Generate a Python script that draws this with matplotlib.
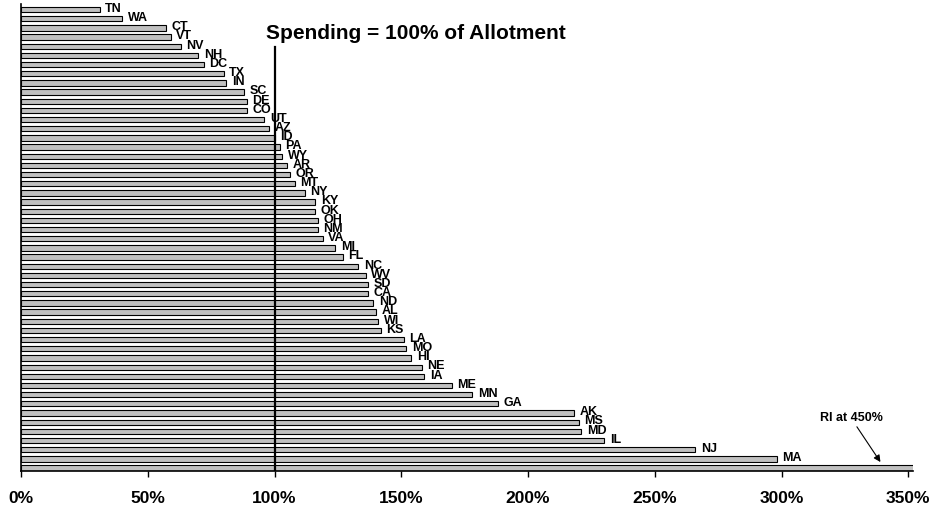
import numpy as np
import matplotlib
matplotlib.use("Agg")
import matplotlib.pyplot as plt
from matplotlib import ticker

plt.rcParams['font.family'] = ['Liberation Sans', 'DejaVu Sans']
plt.rcParams['font.weight'] = 'bold'

# Spending as % of allotment, sorted (RI actually 450%, clipped at right edge)
states = ["TN", "WA", "CT", "VT", "NV", "NH", "DC", "TX", "IN", "SC",
          "DE", "CO", "UT", "AZ", "ID", "PA", "WY", "AR", "OR", "MT",
          "NY", "KY", "OK", "OH", "NM", "VA", "MI", "FL", "NC", "WV",
          "SD", "CA", "ND", "AL", "WI", "KS", "LA", "MO", "HI", "NE",
          "IA", "ME", "MN", "GA", "AK", "MS", "MD", "IL", "NJ", "MA", "RI"]
spending = [31, 40, 57, 59, 63, 70, 72, 80, 81, 88,
            89, 89, 96, 98, 100, 102, 103, 105, 106, 108,
            112, 116, 116, 117, 117, 119, 124, 127, 133, 136,
            137, 137, 139, 140, 141, 142, 151, 152, 154, 158,
            159, 170, 178, 188, 218, 220, 221, 230, 266, 298, 450]
xticks = [0, 50, 100, 150, 200, 250, 300, 350]

fig = plt.figure(figsize=(9.33, 5.12), dpi=100)
ax = fig.add_axes([0.0225, 0.080, 0.9565, 0.912])

y = np.arange(len(states))
ax.barh(y, spending, height=0.58, color='#c0c0c0', edgecolor='black', linewidth=0.8)

# state labels just past the bar ends
for i, (st, v) in enumerate(zip(states, spending)):
    if v > 350:
        continue
    ax.annotate(st, (v, i), xytext=(4, 0.5), textcoords='offset points',
                ha='left', va='center', fontsize=9, fontweight='bold')

ax.set_xlim(0, 352)
ax.set_ylim(50.33, -0.6)
ax.set_xticks(xticks)
ax.xaxis.set_major_formatter(ticker.FuncFormatter(lambda v, p: f"{v:.0f}%"))
ax.tick_params(axis='x', length=4.5, width=1, pad=10, labelsize=12.5)
ax.set_yticks([])
for s in ['top', 'right']:
    ax.spines[s].set_visible(False)
ax.spines['left'].set_linewidth(1.2)
ax.spines['bottom'].set_linewidth(1.2)

# 100% reference line
ax.axvline(100, ymin=0, ymax=0.908, color='black', linewidth=1.6)
ax.text(0.442, 0.938, "Spending = 100% of Allotment", transform=ax.transAxes,
        ha='center', va='center', fontsize=15, fontweight='bold')

# RI note
ax.annotate("RI at 450%", xy=(339, 49.35), xytext=(315, 45.2),
            fontsize=9, fontweight='bold', ha='left', va='bottom',
            arrowprops=dict(arrowstyle='-|>', color='black', lw=0.8,
                            shrinkA=0, shrinkB=0, mutation_scale=10))

fig.savefig("out.png", dpi=100)
